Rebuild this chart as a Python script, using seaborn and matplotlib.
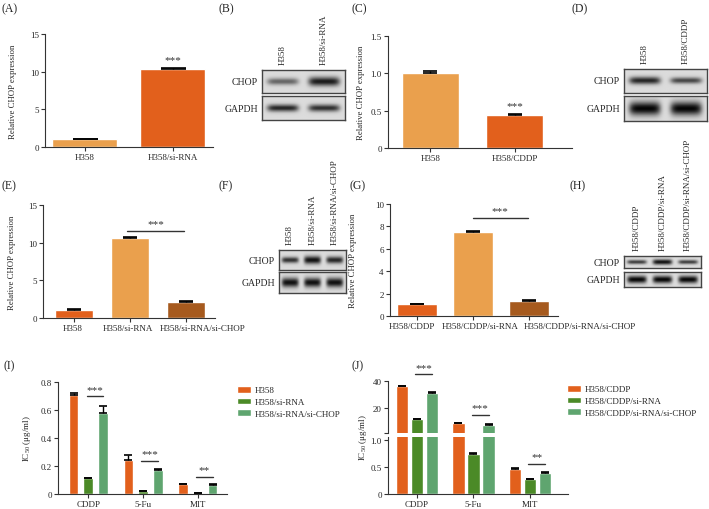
import numpy as np
import pandas as pd
import matplotlib.pyplot as plt
import matplotlib.transforms as mtransforms
import seaborn as sns
from matplotlib.patches import Patch

sns.set_style("ticks")
plt.rcParams["font.family"] = ["Liberation Serif", "DejaVu Serif"]
plt.rcParams["mathtext.fontset"] = "custom"
plt.rcParams["mathtext.rm"] = "Liberation Serif"
plt.rcParams["mathtext.it"] = "Liberation Serif:italic"

ORANGE = "#E2601C"
LIGHT = "#EAA04D"
BROWN = "#A65A1E"
DGREEN = "#4B8A27"
LGREEN = "#5FA56F"
INK = "#333333"

# ---- data ----
a_groups = ["H358", "H358/si-RNA"]
a_vals = [1.0, 10.4]
a_err = [0.06, 0.15]

c_groups = ["H358", "H358/CDDP"]
c_vals = [1.0, 0.445]
c_err = [0.035, 0.015]

e_groups = ["H358", "H358/si-RNA", "H358/si-RNA/si-CHOP"]
e_vals = [1.1, 10.6, 2.15]
e_err = [0.08, 0.12, 0.06]

g_groups = ["H358/CDDP", "H358/CDDP/si-RNA", "H358/CDDP/si-RNA/si-CHOP"]
g_vals = [1.03, 7.5, 1.38]
g_err = [0.04, 0.13, 0.07]

drugs = ["CDDP", "5-Fu", "MIT"]
i_groups = ["H358", "H358/si-RNA", "H358/si-RNA/si-CHOP"]
i_h358 = [0.71, 0.24, 0.072]
i_sirna = [0.112, 0.018, 0.004]
i_sichop = [0.578, 0.172, 0.064]
i_h358_err = [0.01, 0.04, 0.003]
i_sirna_err = [0.005, 0.003, 0.001]
i_sichop_err = [0.048, 0.007, 0.004]

j_groups = ["H358/CDDP", "H358/CDDP/si-RNA", "H358/CDDP/si-RNA/si-CHOP"]
j_cddp = [36.0, 8.2, 0.47]
j_sirna = [11.2, 0.75, 0.27]
j_sichop = [31.0, 7.3, 0.39]
j_cddp_err = [0.4, 0.3, 0.015]
j_sirna_err = [0.4, 0.02, 0.015]
j_sichop_err = [0.4, 0.3, 0.01]

# western blot band darkness (0-1) and band thickness per lane
b_lanes = ["H358", "H358/si-RNA"]
b_chop, b_chop_t = [0.55, 0.9], [0.3, 0.4]
b_gapdh, b_gapdh_t = [0.85, 0.8], [0.3, 0.3]
d_lanes = ["H358", "H358/CDDP"]
d_chop, d_chop_t = [0.85, 0.7], [0.3, 0.25]
d_gapdh, d_gapdh_t = [1.0, 1.0], [0.55, 0.55]
f_lanes = ["H358", "H358/si-RNA", "H358/si-RNA/si-CHOP"]
f_chop, f_chop_t = [0.8, 0.95, 0.85], [0.3, 0.4, 0.35]
f_gapdh, f_gapdh_t = [0.95, 0.95, 0.95], [0.45, 0.45, 0.45]
h_lanes = ["H358/CDDP", "H358/CDDP/si-RNA", "H358/CDDP/si-RNA/si-CHOP"]
h_chop, h_chop_t = [0.75, 0.95, 0.75], [0.35, 0.45, 0.35]
h_gapdh, h_gapdh_t = [1.0, 1.0, 1.0], [0.5, 0.5, 0.5]

W, H = 709, 510
fig = plt.figure(figsize=(W / 100, H / 100), dpi=100)


def add_ax(l, t, r, b):
    return fig.add_axes([l / W, 1 - b / H, (r - l) / W, (b - t) / H])


def style(ax, yticks, ylabels):
    sns.despine(ax=ax)
    for s in ["left", "bottom"]:
        ax.spines[s].set_color(INK)
        ax.spines[s].set_linewidth(0.8)
    ax.tick_params(labelsize=6.5, length=3, width=0.8, color=INK, pad=1.5)
    ax.set_yticks(yticks)
    ax.set_yticklabels(ylabels)
    ax.set_xlabel("")


def shift_xlabels(ax, shifts_px):
    # the original figure lays the long category names out side by side
    for lab, dx in zip(ax.get_xticklabels(), shifts_px):
        off = mtransforms.ScaledTranslation(dx / 100, 0, fig.dpi_scale_trans)
        lab.set_transform(lab.get_transform() + off)


def stars(ax, x, y, text, off=5):
    ax.annotate(text, xy=(x, y), xytext=(0, off), textcoords="offset points",
                ha="center", va="center", fontsize=8, color=INK,
                annotation_clip=False)


def sig(ax, x1, x2, y, text):
    ax.plot([x1, x2], [y, y], color=INK, lw=1, clip_on=False)
    stars(ax, (x1 + x2) / 2, y, text)


def simple_bars(ax, groups, vals, errs, colors, width, cap):
    df = pd.DataFrame({"group": groups, "value": vals})
    sns.barplot(data=df, x="group", y="value", hue="group", palette=colors,
                width=width, errorbar=None, legend=False, ax=ax, saturation=1)
    x = np.arange(len(groups))
    ax.errorbar(x, vals, yerr=[np.zeros(len(vals)), errs], fmt="none",
                ecolor="black", elinewidth=1, capsize=cap, capthick=1.2)


def grouped_bars(ax, groups, series, errs, colors, width, gap, cap, lo=None):
    rows = []
    for g, vals in zip(groups, series):
        for d, v in zip(drugs, vals):
            rows.append({"drug": d, "group": g, "value": v})
    df = pd.DataFrame(rows)
    sns.barplot(data=df, x="drug", y="value", hue="group", hue_order=groups,
                palette=colors, width=width, gap=gap, errorbar=None,
                legend=False, ax=ax, saturation=1)
    centers = []
    for cont, err in zip(ax.containers, errs):
        xs = np.array([b.get_x() + b.get_width() / 2 for b in cont])
        hs = np.array([b.get_height() for b in cont])
        err = np.array(err)
        keep = np.ones(len(hs), bool) if lo is None else (hs + err > lo)
        ax.errorbar(xs[keep], hs[keep], yerr=[np.zeros(keep.sum()), err[keep]],
                    fmt="none", ecolor="black", elinewidth=1, capsize=cap,
                    capthick=1.2)
        centers.append(list(xs))
    return centers


def legend(ax, groups, colors, x, y):
    handles = [Patch(facecolor=c) for c in colors]
    ax.legend(handles, groups, loc="upper left", bbox_to_anchor=(x / W, 1 - y / H),
              bbox_transform=fig.transFigure, frameon=False, fontsize=6.5,
              handlelength=1.5, handleheight=0.75, handletextpad=0.5,
              labelspacing=0.35, borderaxespad=0, borderpad=0)


def blot(ax, dark, thick):
    n = len(dark)
    xs = np.linspace(0, n, 80 * n)
    ys = np.linspace(-1, 1, 40)
    X, Y = np.meshgrid(xs, ys)
    img = np.full(X.shape, 0.86)
    for i, (d, t) in enumerate(zip(dark, thick)):
        horiz = np.exp(-((X - i - 0.5) / 0.38) ** 6)
        vert = np.exp(-(Y / t) ** 2)
        img = img - 0.84 * d * horiz * vert
    ax.imshow(np.clip(img, 0, 1), cmap="gray", vmin=0, vmax=1, aspect="auto",
              interpolation="bilinear")
    ax.set_xticks([])
    ax.set_yticks([])
    for s in ax.spines.values():
        s.set_color("#444444")
        s.set_linewidth(1.0)


def blot_panel(box1, box2, lanes, chop, chop_t, gapdh, gapdh_t):
    ax1 = add_ax(*box1)
    ax2 = add_ax(*box2)
    blot(ax1, chop, chop_t)
    blot(ax2, gapdh, gapdh_t)
    n = len(lanes)
    for i, lab in enumerate(lanes):
        ax1.annotate(lab, xy=((i + 0.5) / n, 1), xycoords="axes fraction",
                     xytext=(0, 4), textcoords="offset points", rotation=90,
                     ha="center", va="bottom", fontsize=6.5)
    for ax, name in [(ax1, "CHOP"), (ax2, "GAPDH")]:
        ax.annotate(name, xy=(0, 0.5), xycoords="axes fraction", xytext=(-3, 0),
                    textcoords="offset points", ha="right", va="center",
                    fontsize=7)


YLAB = "Relative CHOP expression"

# (A)
ax = add_ax(45, 35, 213, 148)
simple_bars(ax, a_groups, a_vals, a_err, [LIGHT, ORANGE], 0.74, 9)
ax.set_xlim(-0.45, 1.46)
ax.set_ylim(0, 15)
style(ax, [0, 5, 10, 15], ["0", "5", "10", "15"])
ax.set_ylabel(YLAB, fontsize=6.3)
ax.yaxis.set_label_coords(-0.167, 0.5)
stars(ax, 1, a_vals[1] + a_err[1], "***", off=6)

# (C)
ax = add_ax(388, 37, 572, 149)
simple_bars(ax, c_groups, c_vals, c_err, [LIGHT, ORANGE], 0.68, 4.7)
ax.set_xlim(-0.5, 1.68)
ax.set_ylim(0, 1.5)
style(ax, [0, 0.5, 1.0, 1.5], ["0", "0.5", "1.0", "1.5"])
ax.set_ylabel(YLAB, fontsize=6.3)
ax.yaxis.set_label_coords(-0.125, 0.5)
stars(ax, 1, c_vals[1] + c_err[1], "***", off=6)

# (E)
ax = add_ax(43, 206, 215, 319)
simple_bars(ax, e_groups, e_vals, e_err, [ORANGE, LIGHT, BROWN], 0.68, 4.7)
ax.set_xlim(-0.55, 2.51)
ax.set_ylim(0, 15)
style(ax, [0, 5, 10, 15], ["0", "5", "10", "15"])
shift_xlabels(ax, [-1.5, -2.5, 16.5])
ax.set_ylabel(YLAB, fontsize=6.3)
ax.yaxis.set_label_coords(-0.157, 0.5)
sig(ax, 0.95, 1.95, 11.6, "***")

# (G)
ax = add_ax(390, 205, 558, 317)
simple_bars(ax, g_groups, g_vals, g_err, [ORANGE, LIGHT, BROWN], 0.71, 4.7)
ax.set_xlim(-0.48, 2.52)
ax.set_ylim(0, 10)
style(ax, [0, 2, 4, 6, 8, 10], ["0", "2", "4", "6", "8", "10"])
shift_xlabels(ax, [-5, 7, 51])
ax.set_ylabel(YLAB, fontsize=6.3)
ax.yaxis.set_label_coords(-0.196, 0.5)
sig(ax, 1.0, 1.98, 8.75, "***")

# (I)
ax = add_ax(58, 383, 227, 495)
cen = grouped_bars(ax, i_groups, [i_h358, i_sirna, i_sichop],
                   [i_h358_err, i_sirna_err, i_sichop_err],
                   [ORANGE, DGREEN, LGREEN], 0.8, 0.33, 3)
ax.set_xlim(-0.55, 2.53)
ax.set_ylim(0, 0.8)
style(ax, [0, 0.2, 0.4, 0.6, 0.8], ["0", "0.2", "0.4", "0.6", "0.8"])
ax.set_ylabel("IC$_{50}$ (μg/ml)", fontsize=6.5)
ax.yaxis.set_label_coords(-0.148, 0.5)
for k, (y, t) in enumerate(zip([0.697, 0.239, 0.124], ["***", "***", "**"])):
    sig(ax, cen[1][k] - 0.03, cen[2][k], y, t)
legend(ax, i_groups, [ORANGE, DGREEN, LGREEN], 237, 387)

# (J) broken axis
axt = add_ax(388, 382, 568, 434)
axb = add_ax(388, 438, 568, 495)
series = [j_cddp, j_sirna, j_sichop]
errs = [j_cddp_err, j_sirna_err, j_sichop_err]
cen = grouped_bars(axt, j_groups, series, errs, [ORANGE, DGREEN, LGREEN],
                   0.8, 0.17, 3, lo=1.0)
grouped_bars(axb, j_groups, series, errs, [ORANGE, DGREEN, LGREEN],
             0.8, 0.17, 3)
for a in (axt, axb):
    a.set_xlim(-0.51, 2.67)
axt.set_ylim(1.0, 40)
style(axt, [1.0, 20, 40], ["", "20", "40"])
axt.spines["bottom"].set_visible(False)
axt.tick_params(axis="x", bottom=False, labelbottom=False)
axt.set_ylabel("")
axb.set_ylim(0, 1.06)
style(axb, [0, 0.5, 1.0], ["0", "0.5", "1.0"])
axb.set_ylabel("")
fig.text(363 / W, 1 - 438 / H, "IC$_{50}$ (μg/ml)", rotation=90, ha="center",
         va="center", fontsize=6.5)
sig(axt, cen[1][0] - 0.03, cen[2][0], 45, "***")
sig(axt, cen[1][1] - 0.03, cen[2][1], 14.5, "***")
sig(axb, cen[1][2] - 0.03, cen[2][2], 0.56, "**")
legend(axb, j_groups, [ORANGE, DGREEN, LGREEN], 567, 386)

# western blots
blot_panel((262, 71, 345, 94), (262, 97, 345, 121), b_lanes,
           b_chop, b_chop_t, b_gapdh, b_gapdh_t)
blot_panel((624, 70, 707, 94), (624, 97, 707, 122), d_lanes,
           d_chop, d_chop_t, d_gapdh, d_gapdh_t)
blot_panel((279, 251, 346, 271), (279, 273, 346, 294), f_lanes,
           f_chop, f_chop_t, f_gapdh, f_gapdh_t)
blot_panel((624, 257, 701, 269), (624, 273, 701, 288), h_lanes,
           h_chop, h_chop_t, h_gapdh, h_gapdh_t)

# panel letters
for lab, x, y in [("(A)", 2, 9), ("(B)", 218, 9), ("(C)", 352, 9), ("(D)", 572, 9),
                  ("(E)", 2, 186), ("(F)", 218, 186), ("(G)", 350, 186),
                  ("(H)", 570, 186), ("(I)", 4, 366), ("(J)", 351, 366)]:
    fig.text(x / W, 1 - y / H, lab, ha="left", va="center", fontsize=8.5)

fig.savefig("out.png", dpi=100)
